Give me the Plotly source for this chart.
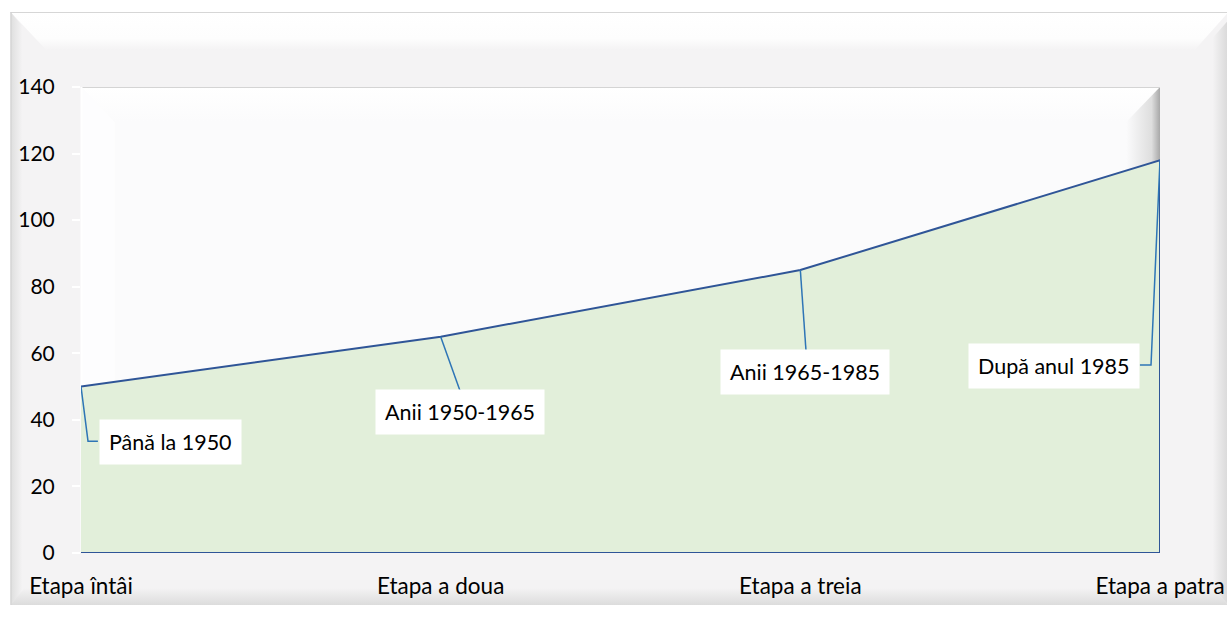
import base64
import plotly.graph_objects as go

# ---- data ----
categories = ["Etapa întâi", "Etapa a doua", "Etapa a treia", "Etapa a patra"]
values = [50, 65, 85, 118]
labels = ["Până la 1950", "Anii 1950-1965", "Anii 1965-1985", "După anul 1985"]
y_ticks = [0, 20, 40, 60, 80, 100, 120, 140]

# ---- layout constants ----
SX = 1237 / 1227              # horizontal compensation for the capture
def X(v):
    return round(v * SX)

W, H = X(1227), 618
L, R, T, B = X(80), X(1159), 87, 553
pw, ph = R - L, B - T

# label offsets relative to the data point (category units, value units)
label_off = [(0.25, -16.7), (0.054, -22.6), (0.013, -30.6), (-0.295, -61.8)]
# leader line path offsets (relative to point), ending at label box edge
leader_off = [
    [(0.0, 0.0), (0.0195, -16.4), (0.047, -16.4)],
    [(0.0, 0.0), (0.054, -16.3)],
    [(0.0, 0.0), (0.016, -24.6)],
    [(0.0, 0.0), (-0.025, -61.5), (-0.056, -61.5)],
]

FONT = "Lato, 'Open Sans', sans-serif"
LINE = "#2F5597"
LEADER = "#2E75B6"
FILL = "#E2EFDA"

fx0, fy0, fx1, fy1 = X(10), 12, W, 605

# ---- background (frame with bevel) as an SVG image ----
svg = f'''<svg xmlns="http://www.w3.org/2000/svg" width="{W}" height="{H}" viewBox="0 0 {W} {H}">
<defs>
<linearGradient id="top" x1="0" y1="0" x2="0" y2="1"><stop offset="0" stop-color="#ffffff"/><stop offset="0.7" stop-color="#fdfdfd"/><stop offset="1" stop-color="#f4f3f4"/></linearGradient>
<linearGradient id="bot" x1="0" y1="0" x2="0" y2="1"><stop offset="0" stop-color="#f4f3f4"/><stop offset="1" stop-color="#dcdcdc"/></linearGradient>
<linearGradient id="lft" x1="0" y1="0" x2="1" y2="0"><stop offset="0" stop-color="#dedede"/><stop offset="1" stop-color="#f4f3f4"/></linearGradient>
<linearGradient id="rgt" x1="0" y1="0" x2="1" y2="0"><stop offset="0" stop-color="#f4f3f4"/><stop offset="1" stop-color="#d8d8d8"/></linearGradient>
<linearGradient id="ptop" x1="0" y1="0" x2="0" y2="1"><stop offset="0" stop-color="#ffffff"/><stop offset="1" stop-color="#fbfbfc"/></linearGradient>
<linearGradient id="prgt" x1="0" y1="0" x2="1" y2="0"><stop offset="0" stop-color="#fbfbfc"/><stop offset="0.75" stop-color="#dedede"/><stop offset="1" stop-color="#a8a8a8"/></linearGradient>
</defs>
<rect x="0" y="0" width="{W}" height="{H}" fill="#ffffff"/>
<rect x="{fx0}" y="{fy0}" width="{fx1-fx0}" height="{fy1-fy0}" fill="#f4f3f4"/>
<polygon points="{fx0},{fy0} {fx1},{fy0} {fx1-34},{fy0+38} {fx0+36},{fy0+38}" fill="url(#top)"/>
<polygon points="{fx0},{fy0} {fx0+12},{fy0+14} {fx0+12},{fy1-13} {fx0},{fy1}" fill="url(#lft)"/>
<polygon points="{fx0},{fy1} {fx1},{fy1} {fx1-16},{fy1-17} {fx0+14},{fy1-17}" fill="url(#bot)"/>
<polygon points="{fx1},{fy0+8} {fx1},{fy1} {fx1-16},{fy1-17} {fx1-16},{fy0+26}" fill="url(#rgt)"/>
<line x1="{fx0}" y1="{fy0+0.5}" x2="{fx1}" y2="{fy0+0.5}" stroke="#d6d6d6" stroke-width="1"/>
<line x1="{fx0+0.5}" y1="{fy0}" x2="{fx0+0.5}" y2="{fy1}" stroke="#d0d0d0" stroke-width="1"/>
<rect x="{L}" y="{T}" width="{pw}" height="{ph}" fill="#fbfbfc"/>
<polygon points="{L},{T} {R},{T} {R-34},{T+35} {L+34},{T+35}" fill="url(#ptop)"/>
<polygon points="{L},{T} {L+34},{T+35} {L+34},{B} {L},{B}" fill="#ffffff" opacity="0.6"/>
<polygon points="{R},{T} {R},{B} {R-34},{B} {R-34},{T+35}" fill="url(#prgt)"/>
<line x1="{L}" y1="{T+0.5}" x2="{R}" y2="{T+0.5}" stroke="#d4d4d4" stroke-width="1"/>
<line x1="{L+0.5}" y1="{T}" x2="{L+0.5}" y2="{B}" stroke="#ffffff" stroke-width="2"/>
</svg>'''
img_src = "data:image/svg+xml;base64," + base64.b64encode(svg.encode("utf-8")).decode("ascii")

xs = list(range(len(categories)))

fig = go.Figure()

# area fill
fig.add_trace(go.Scatter(x=xs, y=values, mode="lines", fill="tozeroy",
                         fillcolor=FILL, line=dict(width=0, color=FILL),
                         hoverinfo="skip", showlegend=False))
# outline: top, right edge, bottom
fig.add_trace(go.Scatter(x=xs + [xs[-1], xs[0]], y=values + [0, 0], mode="lines",
                         line=dict(color=LINE, width=2), cliponaxis=False,
                         hoverinfo="skip", showlegend=False))

# leader lines
for i, path in enumerate(leader_off):
    lx = [xs[i] + dx for dx, dy in path]
    ly = [values[i] + dy for dx, dy in path]
    fig.add_trace(go.Scatter(x=lx, y=ly, mode="lines", line=dict(color=LEADER, width=1.5),
                             cliponaxis=False, hoverinfo="skip", showlegend=False))

annotations = []
for i, (lab, (dx, dy)) in enumerate(zip(labels, label_off)):
    annotations.append(dict(x=xs[i] + dx, y=values[i] + dy, xref="x", yref="y",
                            text=lab, showarrow=False, bgcolor="#ffffff",
                            borderpad=9, font=dict(family=FONT, size=21.5, color="#000000")))

fig.update_layout(
    width=W, height=H, autosize=False,
    margin=dict(l=L, r=W - R, t=T, b=H - B, pad=0),
    paper_bgcolor="rgba(0,0,0,0)",
    plot_bgcolor="rgba(0,0,0,0)",
    annotations=annotations,
    images=[dict(source=img_src, xref="paper", yref="paper",
                 x=-L / pw, y=1 + T / ph, sizex=W / pw, sizey=H / ph,
                 xanchor="left", yanchor="top", sizing="stretch", layer="below")],
    xaxis=dict(range=[0, 3], tickvals=xs, ticktext=categories, showgrid=False,
               zeroline=False, showline=False, ticks="", ticklabelstandoff=17,
               tickfont=dict(family=FONT, size=22.5, color="#000000"), fixedrange=True),
    yaxis=dict(range=[0, 140], tickvals=y_ticks, showgrid=False, zeroline=False,
               showline=False, ticks="outside", ticklen=8, tickcolor="#ffffff",
               tickwidth=1.5, ticklabelstandoff=13,
               tickfont=dict(family=FONT, size=21, color="#000000"), fixedrange=True),
    showlegend=False,
)

fig.write_html("out.html", config={"displayModeBar": False, "responsive": False},
               post_script="document.body.style.margin='0';document.body.style.overflow='hidden';")
